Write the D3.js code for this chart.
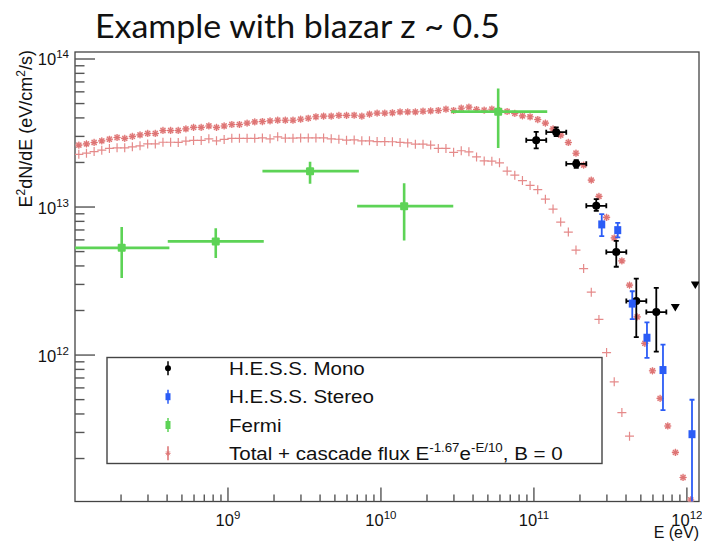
<!DOCTYPE html>
<html>
<head>
<meta charset="utf-8">
<script src="https://cdn.jsdelivr.net/npm/d3@7"></script>
<style>
  html, body { margin: 0; padding: 0; background: #fff; }
  svg { display: block; }
</style>
</head>
<body>
<script>
// ---- Data (flux values in units of 1e13 eV/cm^2/s) ----
const FLUX_UNIT = 1e13;

// Model grid: log10(E/eV) at the centre of each model bin
const modelLogE = [
  8.025, 8.075, 8.125, 8.175, 8.225, 8.275, 8.325, 8.375, 8.425, 8.475,
  8.525, 8.575, 8.625, 8.675, 8.725, 8.775, 8.825, 8.875, 8.925, 8.975,
  9.025, 9.075, 9.125, 9.175, 9.225, 9.275, 9.325, 9.375, 9.425, 9.475,
  9.525, 9.575, 9.625, 9.675, 9.725, 9.775, 9.825, 9.875, 9.925, 9.975,
  10.025, 10.075, 10.125, 10.175, 10.225, 10.275, 10.325, 10.375, 10.425, 10.475,
  10.525, 10.575, 10.625, 10.675, 10.725, 10.775, 10.825, 10.875, 10.925, 10.975,
  11.025, 11.075, 11.125, 11.175, 11.225, 11.275, 11.325, 11.375, 11.425, 11.475,
  11.525, 11.575, 11.625, 11.675, 11.725, 11.775, 11.825, 11.875, 11.925, 11.975,
  12.025
];

// Total + cascade flux (star markers)
const modelTotal = [
  2.62, 2.67, 2.73, 2.80, 2.87, 2.95, 2.91, 3.00, 3.07, 3.14,
  3.14, 3.29, 3.29, 3.29, 3.37, 3.45, 3.45, 3.53, 3.45, 3.53,
  3.61, 3.61, 3.69, 3.76, 3.78, 3.82, 3.86, 3.86, 3.86, 3.92,
  3.98, 4.07, 4.11, 4.11, 4.16, 4.16, 4.17, 4.11, 4.24, 4.31,
  4.31, 4.33, 4.39, 4.39, 4.39, 4.44, 4.46, 4.49, 4.58, 4.49,
  4.65, 4.73, 4.56, 4.51, 4.58, 4.48, 4.42, 4.29, 4.13, 4.07,
  3.90, 3.69, 3.37, 3.06, 2.73, 2.31, 1.92, 1.52, 1.18, 0.851,
  0.619, 0.433, 0.297, 0.181, 0.120, 0.0783, 0.0510, 0.0332, 0.0220, 0.0149,
  0.0105
];

// Cascade component (plus markers)
const modelCascade = [
  2.27, 2.31, 2.37, 2.42, 2.49, 2.51, 2.51, 2.55, 2.59, 2.67,
  2.67, 2.74, 2.74, 2.73, 2.79, 2.82, 2.82, 2.89, 2.80, 2.86,
  2.91, 2.91, 2.91, 2.91, 2.93, 2.89, 2.98, 2.92, 2.92, 2.93,
  2.93, 2.93, 2.93, 2.89, 2.87, 2.83, 2.84, 2.80, 2.80, 2.77,
  2.77, 2.76, 2.73, 2.71, 2.66, 2.66, 2.62, 2.49, 2.49, 2.34,
  2.40, 2.36, 2.18, 2.05, 2.04, 1.99, 1.75, 1.64, 1.51, 1.40,
  1.31, 1.13, 0.968, 0.791, 0.677, 0.512, 0.384, 0.266, 0.174, 0.104,
  0.0659, 0.0409, 0.0283
];

// Fermi-LAT bins
const fermiE     = [2.02e8, 8.32e8, 3.44e9, 1.418e10, 5.84e10];
const fermiELow  = [1.0e8, 4.04e8, 1.68e9, 6.99e9, 2.88e10];
const fermiEHigh = [4.14e8, 1.714e9, 7.17e9, 2.97e10, 1.222e11];
const fermiF     = [0.530, 0.586, 1.747, 1.014, 4.41];
const fermiFLow  = [0.331, 0.452, 1.439, 0.594, 2.50];
const fermiFHigh = [0.732, 0.720, 2.020, 1.450, 6.31];

// H.E.S.S. mono
const monoE     = [1.035e11, 1.399e11, 1.891e11, 2.556e11, 3.454e11, 4.669e11, 6.309e11];
const monoELow  = [8.91e10, 1.204e11, 1.627e11, 2.200e11, 2.973e11, 4.018e11, 5.430e11];
const monoEHigh = [1.204e11, 1.627e11, 2.200e11, 2.973e11, 4.018e11, 5.430e11, 7.34e11];
const monoF     = [2.830, 3.205, 1.957, 1.019, 0.496, 0.2315, 0.1952];
const monoFLow  = [2.487, 3.011, 1.839, 0.943, 0.395, 0.1323, 0.1056];
const monoFHigh = [3.220, 3.447, 2.073, 1.131, 0.591, 0.3285, 0.2847];
// H.E.S.S. mono upper limits
const limitE = [8.40e11, 1.135e12];
const limitF = [0.2093, 0.297];

// H.E.S.S. stereo
const stereoE     = [2.776e11, 3.532e11, 4.395e11, 5.483e11, 6.978e11, 1.080e12];
const stereoF     = [0.763, 0.698, 0.2227, 0.1309, 0.0792, 0.0292];
const stereoFLow  = [0.636, 0.623, 0.1750, 0.0957, 0.0425, 0.005];
const stereoFHigh = [0.896, 0.782, 0.2697, 0.1665, 0.1178, 0.0499];

// Axis labels
const xMajorTicks = [1e9, 1e10, 1e11, 1e12];
const yMajorTicks = [1e12, 1e13, 1e14];
const legendLabels = ["H.E.S.S. Mono", "H.E.S.S. Stereo", "Fermi"];

// ---- Layout & style ----
const W = 702, H = 541;
const frame = { left: 75, right: 699, top: 52, bottom: 501.5 };
const FONT = "'Liberation Sans', Arial, Helvetica, sans-serif";
const C_GREEN = "#5dd356", C_BLUE = "#2b5cf6", C_RED = "#de7474", C_PLUS = "#e58a8a";

const svg = d3.select("body").append("svg")
  .attr("width", W).attr("height", H)
  .style("font-family", FONT);

svg.append("rect").attr("width", W).attr("height", H).attr("fill", "#fff");

const x = d3.scaleLog().domain([1e8, 1.2e12]).range([frame.left, frame.right]);
const y = d3.scaleLog().domain([1.025e11, 1.115e14]).range([frame.bottom, frame.top]);

// ---- Title ----
svg.append("text")
  .attr("x", 95).attr("y", 38)
  .attr("font-family", "Lato, 'Open Sans', sans-serif")
  .attr("font-size", 33)
  .attr("textLength", 405).attr("lengthAdjust", "spacingAndGlyphs")
  .attr("fill", "#111")
  .text("Example with blazar z ~ 0.5");

// ---- Frame ----
svg.append("rect")
  .attr("x", frame.left).attr("y", frame.top)
  .attr("width", frame.right - frame.left).attr("height", frame.bottom - frame.top)
  .attr("fill", "none").attr("stroke", "#444").attr("stroke-width", 1.3);

// ---- Y axis ticks & labels ----
const isDecade = d => Math.abs(Math.log10(d) - Math.round(Math.log10(d))) < 1e-6;
const yTicks = y.ticks();
const yAxis = svg.append("g");
yAxis.selectAll("line").data(yTicks).join("line")
  .attr("x1", frame.left).attr("x2", d => frame.left + (isDecade(d) ? 20 : 9.5))
  .attr("y1", d => y(d)).attr("y2", d => y(d))
  .attr("stroke", "#555").attr("stroke-width", 1.4);

const yLab = yAxis.selectAll("text").data(yMajorTicks).join("text")
  .attr("x", 69).attr("y", d => y(d) + 6.5)
  .attr("text-anchor", "end").attr("font-size", 16.5).attr("fill", "#111");
yLab.append("tspan").text("10");
yLab.append("tspan").attr("dy", -7).attr("font-size", 11.5).text(d => Math.round(Math.log10(d)));

// ---- X axis ticks & labels ----
const xTicks = x.ticks().filter(d => d > 1e8 * 1.01);
const xAxis = svg.append("g");
xAxis.selectAll("line").data(xTicks).join("line")
  .attr("x1", d => x(d)).attr("x2", d => x(d))
  .attr("y1", frame.bottom)
  .attr("y2", d => frame.bottom - (isDecade(d) ? 14 : 7))
  .attr("stroke", "#555").attr("stroke-width", 1.4);

const xLab = xAxis.selectAll("text").data(xMajorTicks).join("text")
  .attr("x", d => x(d)).attr("y", 526)
  .attr("text-anchor", "middle").attr("font-size", 16.5).attr("fill", "#111");
xLab.append("tspan").text("10");
xLab.append("tspan").attr("dy", -7).attr("font-size", 11.5).text(d => Math.round(Math.log10(d)));

// Axis titles
svg.append("text")
  .attr("x", 699).attr("y", 537.5).attr("text-anchor", "end")
  .attr("font-size", 16).attr("fill", "#111").text("E (eV)");

const yTitle = svg.append("text")
  .attr("transform", "translate(32,50) rotate(-90)")
  .attr("text-anchor", "end").attr("font-size", 18).attr("fill", "#111");
yTitle.append("tspan").text("E");
yTitle.append("tspan").attr("dy", -7).attr("font-size", 12).text("2");
yTitle.append("tspan").attr("dy", 7).text("dN/dE (eV/cm");
yTitle.append("tspan").attr("dy", -7).attr("font-size", 12).text("2");
yTitle.append("tspan").attr("dy", 7).text("/s)");

// ---- Plot contents (clipped to frame) ----
svg.append("clipPath").attr("id", "frameClip")
  .append("rect")
  .attr("x", frame.left).attr("y", frame.top)
  .attr("width", frame.right - frame.left).attr("height", frame.bottom - frame.top);
const plot = svg.append("g").attr("clip-path", "url(#frameClip)");

// Model markers
const starPath = (s) => {
  const a = s * 0.7071;
  return `M${-s},0L${s},0M0,${-s}L0,${s}M${-a},${-a}L${a},${a}M${-a},${a}L${a},${-a}`;
};
const plusPath = (s) => `M${-s},0L${s},0M0,${-s}L0,${s}`;

plot.append("g").selectAll("path").data(modelCascade).join("path")
  .attr("transform", (d, i) => `translate(${x(Math.pow(10, modelLogE[i]))},${y(d * FLUX_UNIT)})`)
  .attr("d", plusPath(4.5))
  .attr("stroke", C_PLUS).attr("stroke-width", 1.2).attr("fill", "none");

const stars = plot.append("g").selectAll("g").data(modelTotal).join("g")
  .attr("transform", (d, i) => `translate(${x(Math.pow(10, modelLogE[i]))},${y(d * FLUX_UNIT)})`);
stars.append("circle").attr("r", 3.2).attr("fill", "#f3c4c4");
stars.append("path").attr("d", starPath(3.6))
  .attr("stroke", C_RED).attr("stroke-width", 1.1).attr("fill", "none");

// Fermi points
const fermi = plot.append("g");
fermiE.forEach((e, i) => {
  const cx = x(e), cy = y(fermiF[i] * FLUX_UNIT);
  fermi.append("line")
    .attr("x1", x(fermiELow[i])).attr("x2", x(fermiEHigh[i]))
    .attr("y1", cy).attr("y2", cy)
    .attr("stroke", C_GREEN).attr("stroke-width", 2.6);
  fermi.append("line")
    .attr("x1", cx).attr("x2", cx)
    .attr("y1", y(fermiFLow[i] * FLUX_UNIT)).attr("y2", y(fermiFHigh[i] * FLUX_UNIT))
    .attr("stroke", C_GREEN).attr("stroke-width", 2.6);
  fermi.append("rect")
    .attr("x", cx - 4).attr("y", cy - 4).attr("width", 8).attr("height", 8)
    .attr("rx", 1).attr("fill", C_GREEN);
});

// H.E.S.S. mono points
const mono = plot.append("g");
monoE.forEach((e, i) => {
  const cx = x(e), cy = y(monoF[i] * FLUX_UNIT);
  const xl = x(monoELow[i]), xh = x(monoEHigh[i]);
  const yl = y(monoFLow[i] * FLUX_UNIT), yh = y(monoFHigh[i] * FLUX_UNIT);
  const seg = (x1, y1, x2, y2) => mono.append("line")
    .attr("x1", x1).attr("y1", y1).attr("x2", x2).attr("y2", y2)
    .attr("stroke", "#000").attr("stroke-width", 1.8);
  seg(xl, cy, xh, cy);
  seg(cx, yl, cx, yh);
  seg(xl, cy - 2.5, xl, cy + 2.5);
  seg(xh, cy - 2.5, xh, cy + 2.5);
  seg(cx - 2.5, yl, cx + 2.5, yl);
  seg(cx - 2.5, yh, cx + 2.5, yh);
  mono.append("circle").attr("cx", cx).attr("cy", cy).attr("r", 4).attr("fill", "#000");
});
limitE.forEach((e, i) => {
  const cx = x(e), cy = y(limitF[i] * FLUX_UNIT);
  mono.append("path")
    .attr("d", `M${cx - 4.5},${cy - 3.5}L${cx + 4.5},${cy - 3.5}L${cx},${cy + 4}Z`)
    .attr("fill", "#000");
});

// H.E.S.S. stereo points
const stereo = plot.append("g");
stereoE.forEach((e, i) => {
  const cx = x(e), cy = y(stereoF[i] * FLUX_UNIT);
  const yl = y(stereoFLow[i] * FLUX_UNIT), yh = y(stereoFHigh[i] * FLUX_UNIT);
  const seg = (x1, y1, x2, y2) => stereo.append("line")
    .attr("x1", x1).attr("y1", y1).attr("x2", x2).attr("y2", y2)
    .attr("stroke", C_BLUE).attr("stroke-width", 1.8);
  seg(cx, yl, cx, yh);
  seg(cx - 2.5, yl, cx + 2.5, yl);
  seg(cx - 2.5, yh, cx + 2.5, yh);
  stereo.append("rect")
    .attr("x", cx - 3.5).attr("y", cy - 4).attr("width", 7).attr("height", 8)
    .attr("fill", C_BLUE);
});

// ---- Legend ----
const legend = svg.append("g");
legend.append("rect")
  .attr("x", 107).attr("y", 357.5).attr("width", 495).attr("height", 106)
  .attr("fill", "#fff").attr("stroke", "#444").attr("stroke-width", 1.4);

const rowY = [368.3, 396.7, 425, 453.3];
const markX = 168;
// markers
const lm = legend.append("g");
lm.append("line").attr("x1", markX).attr("x2", markX).attr("y1", rowY[0] - 7).attr("y2", rowY[0] + 7)
  .attr("stroke", "#000").attr("stroke-width", 1.5);
lm.append("circle").attr("cx", markX).attr("cy", rowY[0]).attr("r", 3).attr("fill", "#000");
lm.append("line").attr("x1", markX).attr("x2", markX).attr("y1", rowY[1] - 7).attr("y2", rowY[1] + 7)
  .attr("stroke", C_BLUE).attr("stroke-width", 1.5);
lm.append("rect").attr("x", markX - 2.5).attr("y", rowY[1] - 3.5).attr("width", 5).attr("height", 7).attr("fill", C_BLUE);
lm.append("line").attr("x1", markX).attr("x2", markX).attr("y1", rowY[2] - 7).attr("y2", rowY[2] + 7)
  .attr("stroke", C_GREEN).attr("stroke-width", 1.5);
lm.append("rect").attr("x", markX - 2.5).attr("y", rowY[2] - 4).attr("width", 5).attr("height", 8).attr("fill", C_GREEN);
lm.append("line").attr("x1", markX).attr("x2", markX).attr("y1", rowY[3] - 7).attr("y2", rowY[3] + 7)
  .attr("stroke", "#d45a5a").attr("stroke-width", 1.3);
lm.append("path").attr("transform", `translate(${markX},${rowY[3]})`).attr("d", starPath(2.6))
  .attr("stroke", C_RED).attr("stroke-width", 1).attr("fill", "none");

// labels (horizontally widened glyphs)
const LEG_SX = 1.11;
const legText = (i) => legend.append("g")
  .attr("transform", `translate(229,${rowY[i] + 6.6}) scale(${LEG_SX},1)`)
  .append("text").attr("x", 0).attr("y", 0)
  .attr("font-size", 18.5).attr("fill", "#111");
legendLabels.forEach((t, i) => legText(i).text(t));
const lt = legText(3);
lt.append("tspan").text("Total + cascade flux E");
lt.append("tspan").attr("dy", -7.5).attr("font-size", 12).text("-1.67");
lt.append("tspan").attr("dy", 7.5).text("e");
lt.append("tspan").attr("dy", -7.5).attr("font-size", 12).text("-E/10");
lt.append("tspan").attr("dy", 7.5).text(", B = 0");
</script>
</body>
</html>
